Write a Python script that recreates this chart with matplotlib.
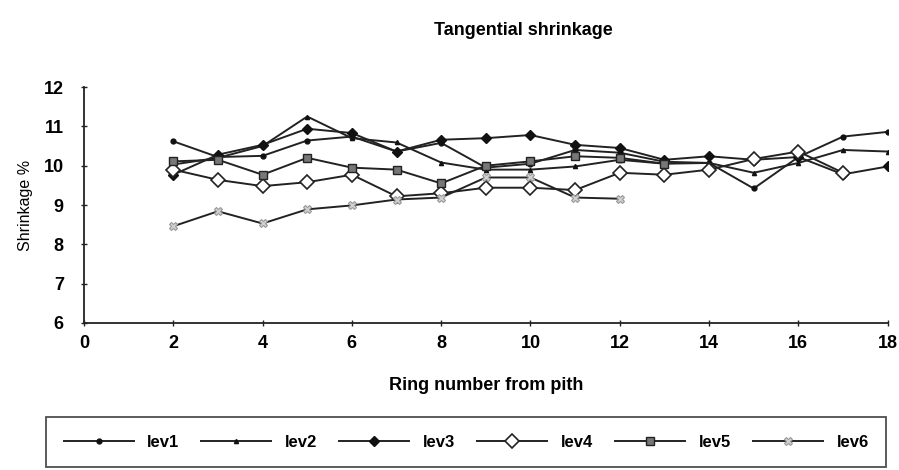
import matplotlib.pyplot as plt

# ring number from pith
rings = [2, 3, 4, 5, 6, 7, 8, 9, 10, 11, 12, 13, 14, 15, 16, 17, 18]

# tangential shrinkage (%) per level
lev1 = [10.62, 10.22, 10.25, 10.64, 10.74, 10.36, 10.58, 9.95, 10.05, 10.40, 10.33, 10.10, 10.07, 9.42, 10.22, 10.74, 10.86]
lev2 = [10.03, 10.20, 10.50, 11.25, 10.70, 10.59, 10.08, 9.90, 9.90, 9.98, 10.15, 10.05, 10.07, 9.82, 10.07, 10.40, 10.36]
lev3 = [9.77, 10.28, 10.53, 10.94, 10.83, 10.36, 10.66, 10.70, 10.78, 10.53, 10.45, 10.15, 10.24, 10.15, 10.22, 9.78, 9.98]
lev4 = [9.90, 9.64, 9.48, 9.58, 9.77, 9.22, 9.30, 9.44, 9.44, 9.38, 9.82, 9.77, 9.90, 10.17, 10.36, 9.82]
lev5 = [10.11, 10.15, 9.77, 10.20, 9.95, 9.90, 9.55, 10.00, 10.11, 10.24, 10.20, 10.05]
lev6 = [8.46, 8.84, 8.53, 8.89, 8.99, 9.14, 9.19, 9.70, 9.70, 9.19, 9.16]

series = [
    ('lev1', lev1, dict(marker='o', ms=3.5, mfc='#111', mec='#111')),
    ('lev2', lev2, dict(marker='^', ms=3, mfc='#111', mec='#111')),
    ('lev3', lev3, dict(marker='D', ms=5, mfc='#111', mec='#111')),
    ('lev4', lev4, dict(marker='D', ms=7, mfc='white', mec='#222', mew=1.2)),
    ('lev5', lev5, dict(marker='s', ms=6, mfc='#777', mec='#222', mew=1.0)),
    ('lev6', lev6, dict(marker='X', ms=6, mfc='#d0d0d0', mec='#999', mew=0.8)),
]

plt.rcParams['font.family'] = ['Liberation Sans', 'DejaVu Sans']

fig = plt.figure(figsize=(8.99, 4.70), dpi=100)
ax = fig.add_axes([0.0934, 0.3128, 0.894, 0.502])

for name, vals, style in series:
    ax.plot(rings[:len(vals)], vals, color='#222', lw=1.4, label=name, **style)

ax.set_xlim(0, 18)
ax.set_ylim(6, 12)
ax.set_xticks(range(0, 19, 2))
ax.set_yticks(range(6, 13))
ax.spines['top'].set_visible(False)
ax.spines['right'].set_visible(False)
for s in ('left', 'bottom'):
    ax.spines[s].set_linewidth(1.3)
    ax.spines[s].set_color('#222')
ax.tick_params(direction='inout', length=5, width=1, color='#222',
               labelsize=13)
ax.tick_params(axis='y', pad=12)
ax.tick_params(axis='x', pad=6)
for lbl in ax.get_xticklabels() + ax.get_yticklabels():
    lbl.set_fontweight('bold')

ax.set_ylabel('Shrinkage %', fontsize=11.5, labelpad=8)
ax.set_xlabel('Ring number from pith', fontsize=13, fontweight='bold', labelpad=18)
fig.text(0.582, 0.936, 'Tangential shrinkage', ha='center', va='center',
         fontsize=13, fontweight='bold')

leg = fig.legend(loc='lower left', bbox_to_anchor=(0.042, -0.012, 0.953, 0.117),
                 mode='expand', ncol=6, frameon=True, fancybox=False,
                 handlelength=4.2, borderpad=1.05,
                 prop={'weight': 'bold', 'size': 12})
leg.get_frame().set_edgecolor('#222')
leg.get_frame().set_linewidth(1.3)

fig.savefig('out.png', dpi=100)
